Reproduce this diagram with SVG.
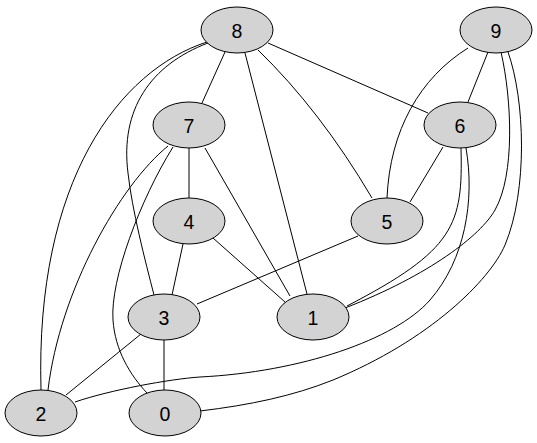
<svg xmlns="http://www.w3.org/2000/svg" width="537" height="443" viewBox="0 0 537 443">
<style>
.e{fill:none;stroke:#000;stroke-width:1}
.n ellipse{fill:#d3d3d3;stroke:#000;stroke-width:1}
.n text{font-family:"Liberation Sans",Arial,sans-serif;font-size:19.5px;text-anchor:middle;fill:#000}
</style>
<rect width="537" height="443" fill="#fff"/>
<g id="edges">
<path class="e" d="M207,42 C120,70 35,180 41,390"/>
<path class="e" d="M208,43 C150,65 120,110 128,173 C132,210 145,260 154,295"/>
<path class="e" d="M225,52 L202,103"/>
<path class="e" d="M245,53 L307,294"/>
<path class="e" d="M258,50 Q320,110 372,198"/>
<path class="e" d="M268,43 L428,113"/>
<path class="e" d="M488,52 L468,102"/>
<path class="e" d="M468,48 C420,78 390,130 387,198"/>
<path class="e" d="M501,52 C512,100 515,175 495,210 C481,235 430,275 345,308"/>
<path class="e" d="M508,52 C525,100 528,190 505,245 C490,280 430,340 333,380 C293,396 250,405 200,411"/>
<path class="e" d="M461,148 C463,225 455,250 347,306"/>
<path class="e" d="M466,148 C475,200 465,260 430,300 C395,340 300,372 200,377 C170,379 110,390 75,402"/>
<path class="e" d="M443,147 L410,202"/>
<path class="e" d="M168,146 C120,185 60,290 48,390"/>
<path class="e" d="M173,147 C140,200 110,280 113,320 C115,350 130,375 147,393"/>
<path class="e" d="M189,148 L189,198"/>
<path class="e" d="M205,148 L290,296"/>
<path class="e" d="M213,238 L285,302"/>
<path class="e" d="M183,244 L172,295"/>
<path class="e" d="M358,236 L197,304"/>
<path class="e" d="M141,334 L66,395"/>
<path class="e" d="M164,340 L164,390"/>
</g>
<g id="node8" class="n"><ellipse cx="237" cy="30" rx="36" ry="23"/><text x="237" y="37.5">8</text></g>
<g id="node9" class="n"><ellipse cx="496" cy="30" rx="36" ry="23"/><text x="496" y="37.5">9</text></g>
<g id="node7" class="n"><ellipse cx="189" cy="125" rx="36" ry="23"/><text x="189" y="132.5">7</text></g>
<g id="node6" class="n"><ellipse cx="460" cy="125" rx="36" ry="23"/><text x="460" y="132.5">6</text></g>
<g id="node4" class="n"><ellipse cx="189" cy="221" rx="36" ry="23"/><text x="189" y="228.5">4</text></g>
<g id="node5" class="n"><ellipse cx="387" cy="221" rx="36" ry="23"/><text x="387" y="228.5">5</text></g>
<g id="node3" class="n"><ellipse cx="164" cy="317" rx="36" ry="23"/><text x="164" y="324.5">3</text></g>
<g id="node1" class="n"><ellipse cx="313" cy="317" rx="36" ry="23"/><text x="313" y="324.5">1</text></g>
<g id="node2" class="n"><ellipse cx="41" cy="413" rx="36" ry="23"/><text x="41" y="420.5">2</text></g>
<g id="node0" class="n"><ellipse cx="165" cy="413" rx="36" ry="23"/><text x="165" y="420.5">0</text></g>
</svg>
